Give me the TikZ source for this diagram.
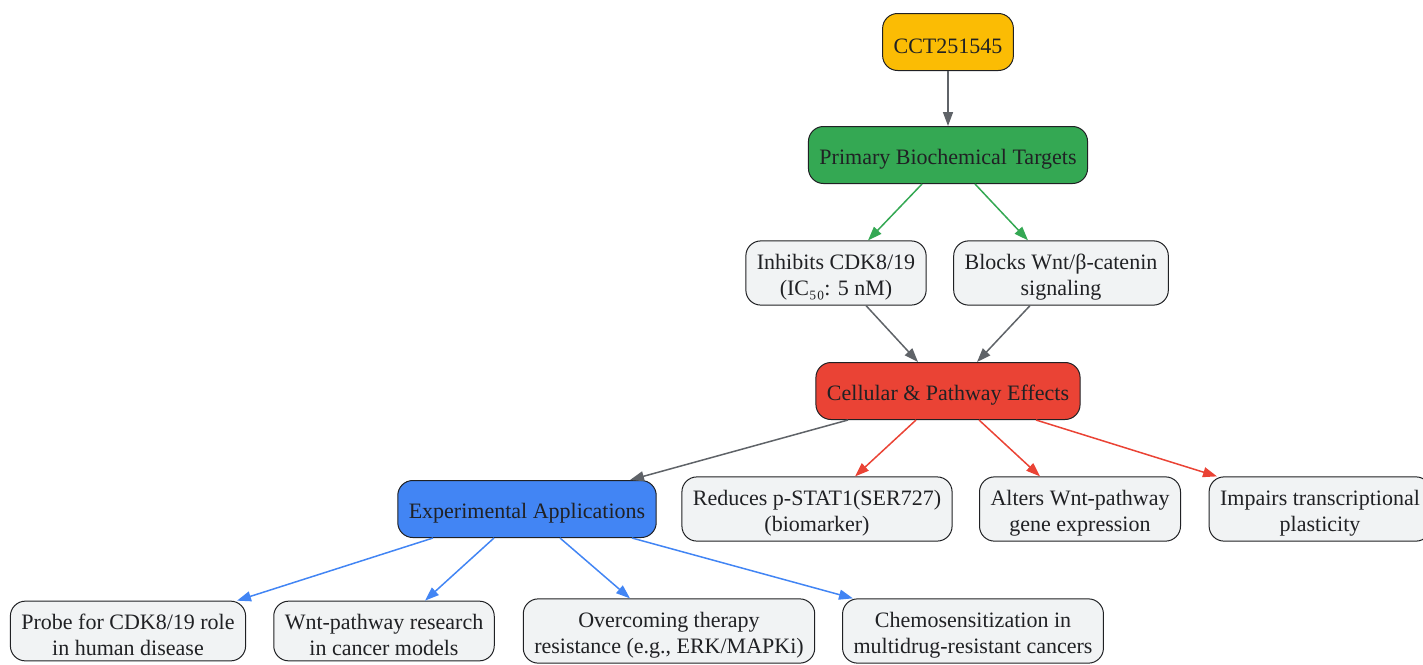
\documentclass[tikz,border=0pt]{standalone}
\usepackage{fontspec}
\setmainfont{Liberation Serif}
\usetikzlibrary{arrows.meta}
\definecolor{ink}{HTML}{202124}
\definecolor{boxgray}{HTML}{F1F3F4}
\definecolor{edgegray}{HTML}{5F6368}
\definecolor{gyellow}{HTML}{FBBC04}
\definecolor{ggreen}{HTML}{34A853}
\definecolor{gred}{HTML}{EA4335}
\definecolor{gblue}{HTML}{4285F4}
\newcommand{\lift}{\rule{0pt}{23.5pt}}
\begin{document}
\begin{tikzpicture}[x=1pt, y=1pt,
  box/.style={draw=ink, line width=1pt, rounded corners=15pt, fill=boxgray,
    text=ink, align=center, inner xsep=11pt, inner ysep=5pt,
    minimum height=57pt, font=\fontsize{22}{26}\selectfont},
  link/.style={line width=1.5pt, -{Triangle[length=14pt,width=10pt]}}]
\def\xmid{948};
\def\yroot{-42};
\def\ytarg{-155};
\def\yhit{-273};
\def\yeff{-391};
\def\yout{-509};
\def\yuse{-631};

\useasboundingbox (0,0) rectangle (1423,-664);

\node [box, fill=gyellow] (cct) at (\xmid, \yroot) {\lift CCT251545};
\node [box, fill=ggreen] (targets) at (\xmid, \ytarg) {\lift Primary Biochemical Targets};
\node [box] (cdk) at (836, \yhit) {\lift Inhibits CDK8/19\\(IC₅₀: 5 nM)};
\node [box] (wnt) at (1061, \yhit) {\lift Blocks Wnt/β-catenin\\signaling};
\node [box, fill=gred] (effects) at (\xmid, \yeff) {\lift Cellular \& Pathway Effects};
\node [box, fill=gblue] (apps) at (527, \yout) {\lift Experimental Applications};
\node [box] (stat) at (817, \yout) {\lift Reduces p-STAT1(SER727)\\(biomarker)};
\node [box] (genes) at (1080, \yout) {\lift Alters Wnt-pathway\\gene expression};
\node [box] (plast) at (1320, \yout) {\lift Impairs transcriptional\\plasticity};
\node [box] (probe) at (128, \yuse) {\lift Probe for CDK8/19 role\\in human disease};
\node [box] (wntres) at (384, \yuse) {\lift Wnt-pathway research\\in cancer models};
\node [box] (resist) at (669, \yuse) {\lift Overcoming therapy\\resistance (e.g., ERK/MAPKi)};
\node [box] (chemo) at (973, \yuse) {\lift Chemosensitization in\\multidrug-resistant cancers};

\draw [link, edgegray] (cct.south) -- (targets.north);
\draw [link, ggreen] ([xshift=-26pt]targets.south) -- ([xshift=32pt]cdk.north);
\draw [link, ggreen] ([xshift=27pt]targets.south) -- ([xshift=-33pt]wnt.north);
\draw [link, edgegray] ([xshift=30pt]cdk.south) -- ([xshift=-30pt]effects.north);
\draw [link, edgegray] ([xshift=-31pt]wnt.south) -- ([xshift=29pt]effects.north);

\draw [link, edgegray] ([xshift=-100pt]effects.south) -- ([xshift=103pt]apps.north);
\draw [link, gred] ([xshift=-32pt]effects.south) -- ([xshift=38pt]stat.north);
\draw [link, gred] ([xshift=31pt]effects.south) -- ([xshift=-40pt]genes.north);
\draw [link, gred] ([xshift=88pt]effects.south) -- ([xshift=-103pt]plast.north);

\draw [link, gblue] ([xshift=-94pt]apps.south) -- ([xshift=109pt]probe.north);
\draw [link, gblue] ([xshift=-33pt]apps.south) -- ([xshift=41pt]wntres.north);
\draw [link, gblue] ([xshift=33pt]apps.south) -- ([xshift=-39pt]resist.north);
\draw [link, gblue] ([xshift=105pt]apps.south) -- ([xshift=-120pt]chemo.north);

\end{tikzpicture}
\end{document}
